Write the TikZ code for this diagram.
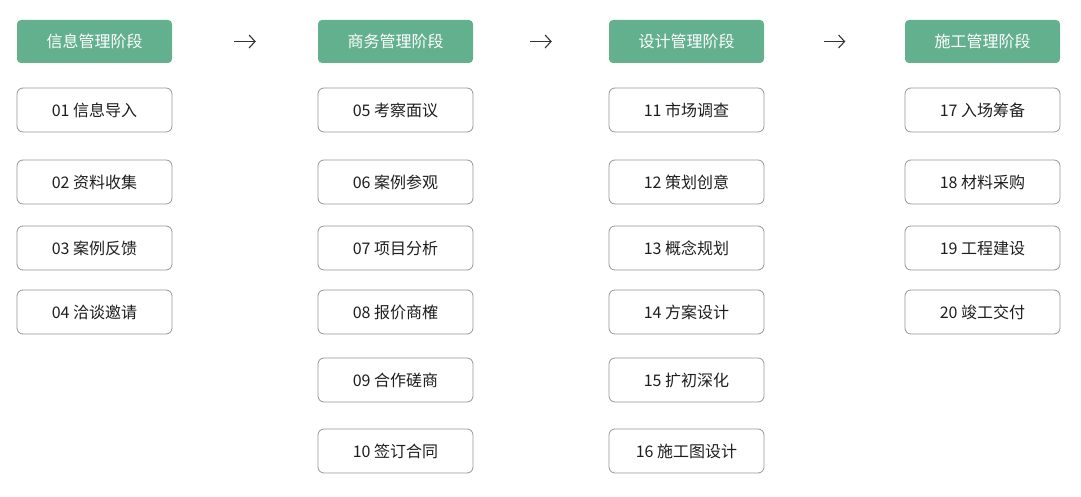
\documentclass[tikz,border=0pt]{standalone}
\usepackage{fontspec}
\setmainfont{Noto Sans CJK SC}
\usepackage{tikz}
\usetikzlibrary{arrows.meta}
\definecolor{stagegreen}{RGB}{99,176,142}
\definecolor{itemline}{RGB}{150,150,150}
\definecolor{itemtext}{RGB}{30,30,30}
\tikzset{
  stage/.style={fill=stagegreen, text=white, rounded corners=4pt, minimum width=155pt, minimum height=43pt, font=\fontsize{16}{19}\selectfont},
  item/.style={draw=itemline, line width=0.8pt, text=itemtext, rounded corners=6pt, minimum width=155pt, minimum height=44pt, font=\fontsize{16}{19}\selectfont},
  flow/.style={-{Straight Barb[length=6pt,width=13pt]}, line width=1.1pt, black!80}
}
\begin{document}
\begin{tikzpicture}[x=1pt,y=-1pt]
                \useasboundingbox (0,0) rectangle (1081,497);
                % stage headers
                \node[stage] (s1) at (94.5,41.5) {信息管理阶段};
                \node[stage] (s2) at (395.5,41.5) {商务管理阶段};
                \node[stage] (s3) at (686.5,41.5) {设计管理阶段};
                \node[stage] (s4) at (982.5,41.5) {施工管理阶段};
                \draw[flow, shorten <=62pt, shorten >=62pt] (s1) -- (s2);
                \draw[flow, shorten <=57pt, shorten >=57pt] (s2) -- (s3);
                \draw[flow, shorten <=59.5pt, shorten >=59.5pt] (s3) -- (s4);
                % column 1
                \node[item] (i01) at (94.5,110) {01 信息导入};
                \node[item] (i02) at (94.5,182) {02 资料收集};
                \node[item] (i03) at (94.5,248) {03 案例反馈};
                \node[item] (i04) at (94.5,312) {04 洽谈邀请};
                % column 2
                \node[item] (i05) at (395.5,110) {05 考察面议};
                \node[item] (i06) at (395.5,182) {06 案例参观};
                \node[item] (i07) at (395.5,248) {07 项目分析};
                \node[item] (i08) at (395.5,312) {08 报价商榷};
                \node[item] (i09) at (395.5,380) {09 合作磋商};
                \node[item] (i10) at (395.5,451) {10 签订合同};
                % column 3
                \node[item] (i11) at (686.5,110) {11 市场调查};
                \node[item] (i12) at (686.5,182) {12 策划创意};
                \node[item] (i13) at (686.5,248) {13 概念规划};
                \node[item] (i14) at (686.5,312) {14 方案设计};
                \node[item] (i15) at (686.5,380) {15 扩初深化};
                \node[item] (i16) at (686.5,451) {16 施工图设计};
                % column 4
                \node[item] (i17) at (982.5,110) {17 入场筹备};
                \node[item] (i18) at (982.5,182) {18 材料采购};
                \node[item] (i19) at (982.5,248) {19 工程建设};
                \node[item] (i20) at (982.5,312) {20 竣工交付};
\end{tikzpicture}
\end{document}
